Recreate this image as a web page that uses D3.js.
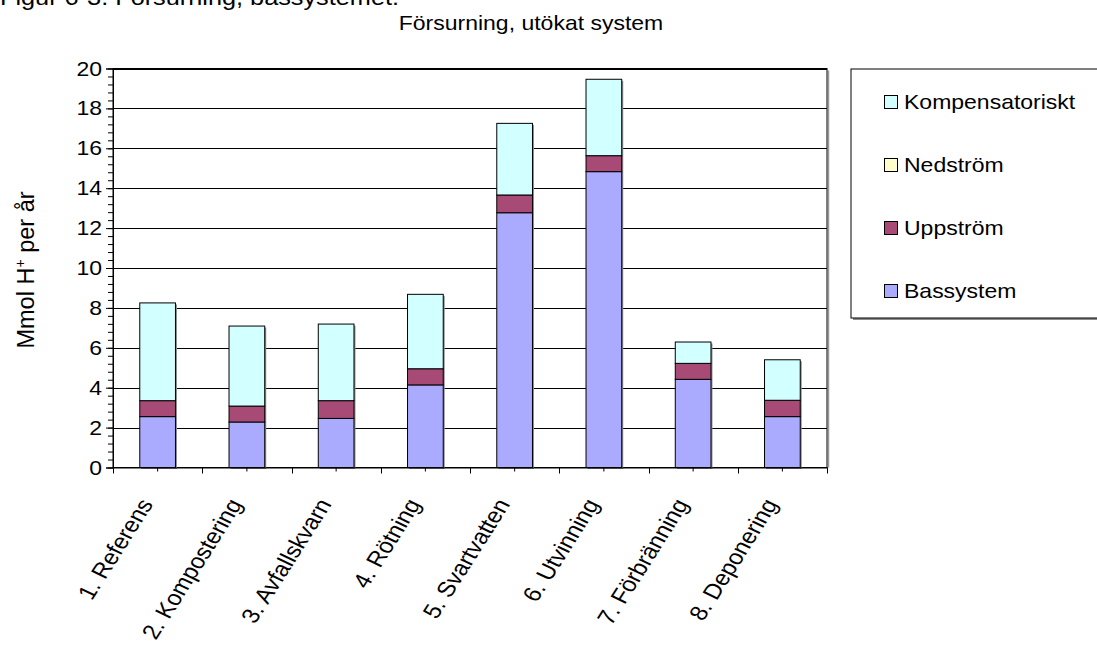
<!DOCTYPE html>
<html>
<head>
<meta charset="utf-8">
<script src="https://cdn.jsdelivr.net/npm/d3@7"></script>
<style>
  html, body { margin: 0; padding: 0; background: #fff; overflow: hidden; }
  svg { display: block; }
  text { font-family: "Liberation Sans", Arial, sans-serif; fill: #000; }
</style>
</head>
<body>
<svg id="chart" width="1097" height="646"></svg>
<script>
// Acidification per scenario, stacked by contribution
const categories = ["1. Referens", "2. Kompostering", "3. Avfallskvarn", "4. Rötning",
                    "5. Svartvatten", "6. Utvinning", "7. Förbränning", "8. Deponering"];
const bassystem       = [2.55, 2.28, 2.46, 4.14, 12.77, 14.83, 4.42, 2.55];
const uppstrom        = [0.80, 0.80, 0.89, 0.81, 0.89, 0.80, 0.80, 0.82];
const nedstrom        = [0, 0, 0, 0, 0, 0, 0, 0];
const kompensatoriskt = [4.90, 4.01, 3.84, 3.73, 3.59, 3.83, 1.07, 2.03];
const seriesNames = ["Bassystem", "Uppström", "Nedström", "Kompensatoriskt"];
const yTicks = [0, 2, 4, 6, 8, 10, 12, 14, 16, 18, 20];

const colors = {
  "Bassystem": "#aaaaff",
  "Uppström": "#a84a76",
  "Nedström": "#ffffcc",
  "Kompensatoriskt": "#d2ffff"
};

const SX = 1.15;   // horizontal text stretch
const FS = 20;
const plot = { left: 113, right: 827, top: 68.5, bottom: 467.5 };

const svg = d3.select("#chart");

const rows = categories.map((c, i) => ({
  cat: c,
  "Bassystem": bassystem[i],
  "Uppström": uppstrom[i],
  "Nedström": nedstrom[i],
  "Kompensatoriskt": kompensatoriskt[i]
}));
const stacked = d3.stack().keys(seriesNames)(rows);

const x = d3.scaleBand().domain(categories)
  .range([plot.left, plot.right]).paddingInner(0.6).paddingOuter(0.3);
const y = d3.scaleLinear().domain([0, 20]).range([plot.bottom, plot.top]);

function stretchedText(g, tx, ty, str, anchor, rot, size) {
  return g.append("text")
    .attr("transform", `translate(${tx},${ty}) scale(${SX},1)` + (rot ? ` rotate(${rot})` : ""))
    .attr("text-anchor", anchor)
    .style("font-size", (size || FS) + "px")
    .text(str);
}

// Caption (runs off the top edge of the page)
stretchedText(svg, 0, 5, "Figur 6-3. Försurning, bassystemet.", "start", 0, 22);
// Title
stretchedText(svg, 531, 30, "Försurning, utökat system", "middle");

// Plot area frame with right-side shadow
svg.append("line").attr("x1", plot.right + 1.5).attr("x2", plot.right + 1.5)
  .attr("y1", plot.top + 2).attr("y2", plot.bottom)
  .attr("stroke", "#9a9a9a").attr("stroke-width", 1.5);
svg.append("rect")
  .attr("x", plot.left).attr("y", plot.top)
  .attr("width", plot.right - plot.left).attr("height", plot.bottom - plot.top)
  .attr("fill", "none").attr("stroke", "#000").attr("stroke-width", 1);

// Gridlines
svg.append("g").selectAll("line").data(yTicks.filter(d => d > 0)).join("line")
  .attr("x1", plot.left).attr("x2", plot.right)
  .attr("y1", d => Math.round(y(d)) + 0.5).attr("y2", d => Math.round(y(d)) + 0.5)
  .attr("stroke", "#000").attr("stroke-width", 1);

// Bar shadows
const totals = rows.map(r => d3.sum(seriesNames, k => r[k]));
svg.append("g").selectAll("rect").data(categories).join("rect")
  .attr("x", d => x(d) + 1.5).attr("y", (d, i) => y(totals[i]) + 1.5)
  .attr("width", x.bandwidth()).attr("height", (d, i) => y(0) - y(totals[i]))
  .attr("fill", "#8c8c8c");

// Stacked bars
svg.append("g").selectAll("g").data(stacked).join("g")
  .attr("fill", d => colors[d.key])
  .selectAll("rect").data(d => d.filter(s => s[1] - s[0] > 0)).join("rect")
  .attr("x", d => x(d.data.cat))
  .attr("y", d => y(d[1]))
  .attr("width", x.bandwidth())
  .attr("height", d => y(d[0]) - y(d[1]))
  .attr("stroke", "#000").attr("stroke-width", 1);

// Y axis: major and minor ticks
const yMinor = d3.range(0, 20.001, 0.4);
svg.append("g").attr("transform", `translate(${plot.left},0)`)
  .call(d3.axisLeft(y).tickValues(yMinor).tickSize(5).tickFormat(""))
  .call(g => g.select(".domain").remove())
  .call(g => g.selectAll("line").attr("stroke", "#000"));
const yAxis = svg.append("g").attr("transform", `translate(${plot.left},0)`)
  .call(d3.axisLeft(y).tickValues(yTicks).tickSize(7).tickFormat(""));
yAxis.select(".domain").attr("stroke", "#000");
yAxis.selectAll("line").attr("stroke", "#000");
yTicks.forEach(t => stretchedText(svg, 102, y(t) + 7, String(t), "end"));

// X axis line and ticks (category centers and boundaries)
const xAxis = svg.append("g").attr("transform", `translate(0,${plot.bottom})`)
  .call(d3.axisBottom(x).tickSize(4).tickFormat(""));
xAxis.select(".domain").attr("stroke", "#000");
xAxis.selectAll("line").attr("stroke", "#000");
const gap = (x.step() - x.bandwidth()) / 2;
const bounds = categories.map(c => x(c) - gap).concat([plot.right]);
svg.append("g").selectAll("line").data(bounds).join("line")
  .attr("x1", d => Math.round(d) + 0.5).attr("x2", d => Math.round(d) + 0.5)
  .attr("y1", plot.bottom).attr("y2", plot.bottom + 6)
  .attr("stroke", "#000");

// Category labels
categories.forEach(c => {
  const cx = x(c) + x.bandwidth() / 2;
  stretchedText(svg, cx - 4, 504, c, "end", -61, 21.5);
});

// Y axis title
const yt = svg.append("text")
  .attr("transform", "translate(34,270) rotate(-90)")
  .attr("text-anchor", "middle").style("font-size", "23.5px");
yt.append("tspan").text("Mmol H");
yt.append("tspan").attr("dy", -9).style("font-size", "14px").text("+");
yt.append("tspan").attr("dy", 9).text("  per år");

// Legend
const lg = { x: 851, y: 69, w: 300, h: 249 };
svg.append("rect").attr("x", lg.x + 2).attr("y", lg.y + 2).attr("width", lg.w).attr("height", lg.h)
  .attr("fill", "#8c8c8c");
svg.append("rect").attr("x", lg.x).attr("y", lg.y).attr("width", lg.w).attr("height", lg.h)
  .attr("fill", "#fff").attr("stroke", "#000").attr("stroke-width", 1);
const legendOrder = seriesNames.slice().reverse();
legendOrder.forEach((k, i) => {
  const cy = 102 + i * 63;
  svg.append("rect").attr("x", 884.5).attr("y", cy - 6.5).attr("width", 13).attr("height", 13)
    .attr("fill", colors[k]).attr("stroke", "#000").attr("stroke-width", 1);
  stretchedText(svg, 904, cy + 7, k, "start");
});
</script>
</body>
</html>
